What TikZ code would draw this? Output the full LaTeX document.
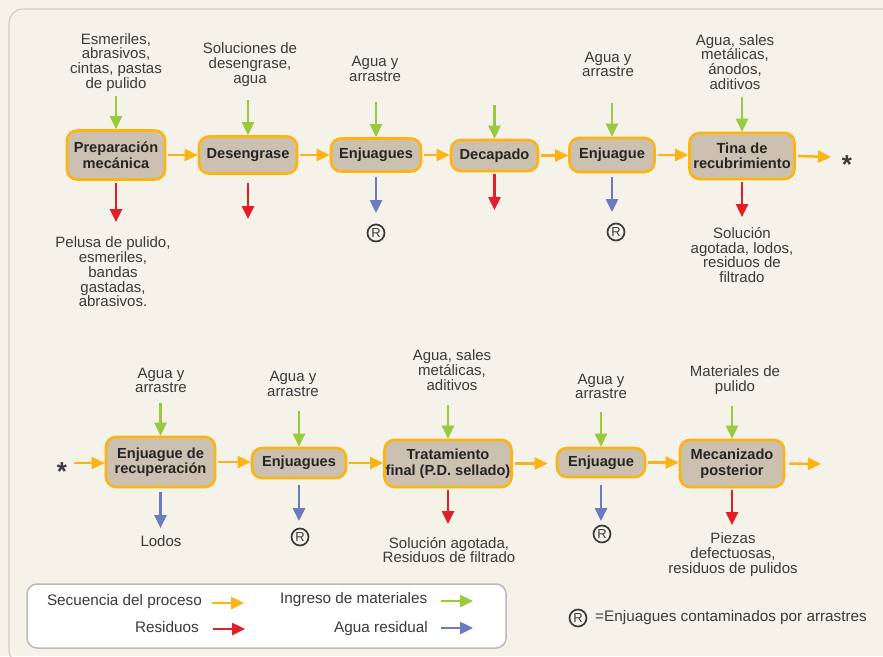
\documentclass[tikz,border=0pt]{standalone}
\usepackage{fontspec}
\setmainfont{Liberation Sans}
\usetikzlibrary{arrows.meta}
\definecolor{procOrange}{RGB}{252,180,21}
\definecolor{inGreen}{RGB}{152,201,62}
\definecolor{wasteRed}{RGB}{226,30,38}
\definecolor{waterBlue}{RGB}{108,122,190}
\definecolor{boxTan}{RGB}{204,193,176}
\definecolor{bgCream}{RGB}{245,242,234}
\definecolor{panelLine}{RGB}{214,205,188}
\definecolor{txtDark}{RGB}{38,36,36}
\definecolor{txtGray}{RGB}{58,58,58}
\tikzset{myboxProc/.style={draw=procOrange, line width=2.6pt, fill=boxTan, rounded corners=10pt, align=center, inner sep=0pt, text=txtDark, font=\bfseries\fontsize{14.6}{15.5}\selectfont}}
\tikzset{myLabel/.style={align=center, inner sep=0pt, text=txtGray, font=\fontsize{15}{14.8}\selectfont}}
\tikzset{myLegText/.style={inner sep=0pt, text=txtGray, font=\fontsize{15.3}{15.3}\selectfont}}
\tikzset{myRmark/.style={circle, draw=txtGray, line width=1.7pt, minimum size=17pt, inner sep=0pt, text=txtGray, font=\fontsize{13}{13}\selectfont}}
\tikzset{myStar/.style={inner sep=0pt, anchor=base, text=txtGray, font=\bfseries\fontsize{26}{26}\selectfont}}
\tikzset{seqArr/.style={draw=procOrange, line width=2.5pt, -{Triangle[length=13pt,width=12pt]}}}
\tikzset{inArr/.style={draw=inGreen, line width=2.5pt, -{Triangle[length=13pt,width=12pt]}}}
\tikzset{wasteArr/.style={draw=wasteRed, line width=2.5pt, -{Triangle[length=13pt,width=12pt]}}}
\tikzset{waterArr/.style={draw=waterBlue, line width=2.5pt, -{Triangle[length=13pt,width=12pt]}}}
\tikzset{myLegend/.style={draw=black!27, line width=1.5pt, fill=white, rounded corners=10pt, minimum width=479pt, minimum height=64pt}}

\begin{document}
\begin{tikzpicture}[x=1pt, y=-1pt]

\useasboundingbox (0,0) rectangle (883,656);
\fill[bgCream] (0,0) rectangle (883,656);
\begin{scope}
\clip (0,0) rectangle (883,656);
\draw[panelLine, line width=1.2pt, rounded corners=14pt] (9,9) rectangle (900,664);
\end{scope}

% first row
\node[myboxProc, minimum width=98pt, minimum height=49pt] (prep) at (116,155) {Preparación\\mecánica};
\node[myboxProc, minimum width=98pt, minimum height=37pt] (deseng) at (248,155) {Desengrase};
\node[myboxProc, minimum width=90pt, minimum height=33pt] (enjA) at (376,155) {Enjuagues};
\node[myboxProc, minimum width=87pt, minimum height=31pt] (decap) at (494.5,155.5) {Decapado};
\node[myboxProc, minimum width=85pt, minimum height=34pt] (enjB) at (612,155) {Enjuague};
\node[myboxProc, minimum width=105pt, minimum height=46pt] (tina) at (742,156) {Tina de\\recubrimiento};
\node[myStar] (starA) at (847,173) {*};

\node[myLabel] (inPrep) at (116,62.5) {Esmeriles,\\abrasivos,\\cintas, pastas\\de pulido};
\node[myLabel] (inDeseng) at (250,64.5) {Soluciones de\\desengrase,\\agua};
\node[myLabel] (inEnjA) at (375,69) {Agua y\\arrastre};
\node[myLabel] (inEnjB) at (608,64.5) {Agua y\\arrastre};
\node[myLabel] (inTina) at (735,62) {Agua, sales\\metálicas,\\ánodos,\\aditivos};

\node[myLabel] (outPrep) at (113,272) {Pelusa de pulido,\\esmeriles,\\bandas\\gastadas,\\abrasivos.};
\node[myRmark] (outEnjA) at (376,233) {R};
\node[myRmark] (outEnjB) at (616,232) {R};
\node[myLabel] (outTina) at (742,255) {Solución\\agotada, lodos,\\residuos de\\filtrado};

\coordinate (gPrep) at (116,96);
\coordinate (gDeseng) at (248,100);
\coordinate (gEnjA) at (376,102);
\coordinate (gDecap) at (494.5,105);
\coordinate (gEnjB) at (612,103);
\coordinate (gTina) at (742,97);
\coordinate (rPrep) at (116,222);
\coordinate (rDeseng) at (248,219);
\coordinate (bEnjA) at (376,213);
\coordinate (rDecap) at (494.5,210);
\coordinate (bEnjB) at (612,212);
\coordinate (rTina) at (742,217);
\coordinate (endA) at (831,157);

\draw[seqArr, shorten <=2pt] (prep.east) -- (prep.east -| deseng.west);
\draw[seqArr, shorten <=2pt] (deseng.east) -- (deseng.east -| enjA.west);
\draw[seqArr, shorten <=2pt] (enjA.east) -- (enjA.east -| decap.west);
\draw[seqArr, shorten <=2pt] (decap.east) -- (decap.east -| enjB.west);
\draw[seqArr, shorten <=2pt] (enjB.east) -- (enjB.east -| tina.west);
\draw[seqArr, shorten <=2pt] (tina.east) -- (endA);

\draw[inArr] (gPrep) to (prep.north);
\draw[inArr] (gDeseng) to (deseng.north);
\draw[inArr] (gEnjA) to (enjA.north);
\draw[inArr] (gDecap) to (decap.north);
\draw[inArr] (gEnjB) to (enjB.north);
\draw[inArr] (gTina) to (tina.north);

\draw[wasteArr, shorten <=2pt] (prep.south) to (rPrep);
\draw[wasteArr, shorten <=8pt] (deseng.south) to (rDeseng);
\draw[waterArr, shorten <=4pt] (enjA.south) to (bEnjA);
\draw[wasteArr, shorten <=2pt] (decap.south) to (rDecap);
\draw[waterArr, shorten <=4pt] (enjB.south) to (bEnjB);
\draw[wasteArr, shorten <=2pt] (tina.south) to (rTina);

% second row
\node[myStar] (starB) at (62,480) {*};
\node[myboxProc, minimum width=109pt, minimum height=50pt] (recup) at (160.5,462) {Enjuague de\\recuperación};
\node[myboxProc, minimum width=94pt, minimum height=30pt] (enjC) at (299,463) {Enjuagues};
\node[myboxProc, minimum width=127pt, minimum height=47pt] (trat) at (448,463.5) {Tratamiento\\final (P.D. sellado)};
\node[myboxProc, minimum width=88pt, minimum height=29pt] (enjD) at (601,462.5) {Enjuague};
\node[myboxProc, minimum width=104pt, minimum height=47pt] (mecan) at (732,463.5) {Mecanizado\\posterior};
\coordinate (startB) at (74,463);
\coordinate (endSeq) at (821,464);

\node[myLabel] (inRecup) at (161,380.5) {Agua y\\arrastre};
\node[myLabel] (inEnjC) at (293,384) {Agua y\\arrastre};
\node[myLabel] (inTrat) at (452,370) {Agua, sales\\metálicas,\\aditivos};
\node[myLabel] (inEnjD) at (601,386.5) {Agua y\\arrastre};
\node[myLabel] (inMecan) at (735,380.5) {Materiales de\\pulido};

\node[myLabel] (outRecup) at (161,541) {Lodos};
\node[myRmark] (outEnjC) at (300,537) {R};
\node[myLabel] (outTrat) at (449,550) {Solución agotada,\\Residuos de filtrado};
\node[myRmark] (outEnjD) at (602,534) {R};
\node[myLabel] (outMecan) at (733,554.5) {Piezas\\defectuosas,\\residuos de pulidos};

\coordinate (gRecup) at (160.5,403);
\coordinate (gEnjC) at (299,411);
\coordinate (gTrat) at (448,405);
\coordinate (gEnjD) at (601,412);
\coordinate (gMecan) at (732,406);
\coordinate (bRecup) at (160.5,528);
\coordinate (bEnjC) at (299,521);
\coordinate (rTrat) at (448,524);
\coordinate (bEnjD) at (601,521);
\coordinate (rMecan) at (732,525);

\draw[seqArr] (startB) -- (startB -| recup.west);
\draw[seqArr, shorten <=2pt] (recup.east) -- (recup.east -| enjC.west);
\draw[seqArr, shorten <=2pt] (enjC.east) -- (enjC.east -| trat.west);
\draw[seqArr, shorten <=2pt, shorten >=8pt] (trat.east) -- (trat.east -| enjD.west);
\draw[seqArr, shorten <=2pt] (enjD.east) -- (enjD.east -| mecan.west);
\draw[seqArr, shorten <=4pt] (mecan.east) -- (endSeq);

\draw[inArr] (gRecup) to (recup.north);
\draw[inArr] (gEnjC) to (enjC.north);
\draw[inArr] (gTrat) to (trat.north);
\draw[inArr] (gEnjD) to (enjD.north);
\draw[inArr] (gMecan) to (mecan.north);

\draw[waterArr, shorten <=4pt] (recup.south) to (bRecup);
\draw[waterArr, shorten <=6pt] (enjC.south) to (bEnjC);
\draw[wasteArr, shorten <=2pt] (trat.south) to (rTrat);
\draw[waterArr, shorten <=7pt] (enjD.south) to (bEnjD);
\draw[wasteArr, shorten <=2pt] (mecan.south) to (rMecan);

% legend
\node[myLegend] (legend) at (266.5,616) {};
\node[myLegText, anchor=east] (legSeq) at (202,602) {Secuencia del proceso};
\node[myLegText, anchor=east] (legRes) at (199,627) {Residuos};
\node[myLegText, anchor=west] (legIn) at (280,600) {Ingreso de materiales};
\node[myLegText, anchor=east] (legAgua) at (428,629) {Agua residual};
\coordinate (sSeq) at (212,603);
\coordinate (aSeq) at (244,603);
\coordinate (sRes) at (213,629);
\coordinate (aRes) at (245,629);
\coordinate (sIn) at (441,601);
\coordinate (aIn) at (473,601);
\coordinate (sAgua) at (441,628);
\coordinate (aAgua) at (473,628);
\draw[seqArr] (sSeq) to (aSeq);
\draw[wasteArr] (sRes) to (aRes);
\draw[inArr] (sIn) to (aIn);
\draw[waterArr] (sAgua) to (aAgua);

\node[myRmark] (noteR) at (578,618) {R};
\node[myLegText, anchor=west] (note) at (595,618) {=Enjuagues contaminados por arrastres};

\end{tikzpicture}
\end{document}
